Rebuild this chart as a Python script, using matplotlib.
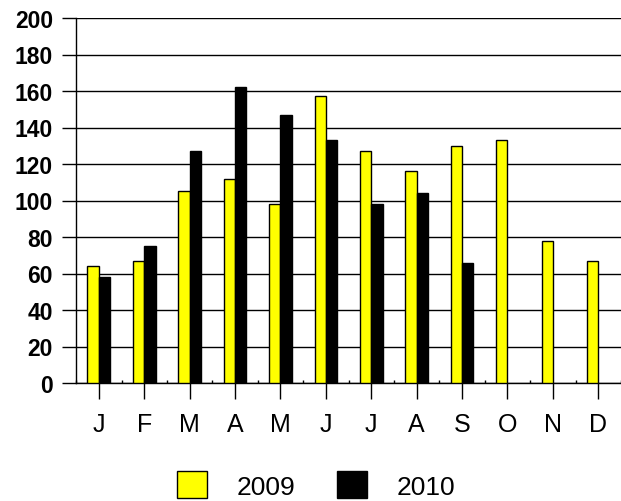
import matplotlib
matplotlib.use("Agg")
import matplotlib.pyplot as plt
from matplotlib.patches import Patch
import numpy as np

months = ["J", "F", "M", "A", "M", "J", "J", "A", "S", "O", "N", "D"]
values_2009 = [64, 67, 105, 112, 98, 157, 127, 116, 130, 133, 78, 67]
values_2010 = [58, 75, 127, 162, 147, 133, 98, 104, 66, np.nan, np.nan, np.nan]
series_names = ["2009", "2010"]
yticks = list(range(0, 201, 20))

plt.rcParams['font.family'] = ['Liberation Sans', 'DejaVu Sans']

W, H = 621, 502
fig = plt.figure(figsize=(W / 100, H / 100), dpi=100)
left, right, top, bottom = 76, 621, 19, 384
ax = fig.add_axes([left / W, (H - bottom) / H, (right - left) / W, (bottom - top) / H])

x = np.arange(len(months))
bw = 0.25
ax.bar(x - bw / 2, values_2009, width=bw, color='#FFFF00', edgecolor='black', linewidth=1, zorder=3)
ax.bar(x + bw / 2, values_2010, width=bw, color='black', edgecolor='black', linewidth=1, zorder=3)

ax.set_xlim(-0.503, -0.503 + (right - left) / 45.73)
ax.set_ylim(0, 200)
ax.set_yticks(yticks)
ax.set_yticklabels([str(v) for v in yticks], fontsize=16.5, fontweight='bold')
ax.set_xticks(x)
ax.set_xticklabels(months, fontsize=18)
ax.set_xticks(np.arange(len(months) + 1) - 0.5, minor=True)

ax.yaxis.grid(True, color='black', linewidth=1, zorder=0)
ax.set_axisbelow(True)
ax.tick_params(axis='y', length=10, width=1, pad=6.5, direction='out')
ax.tick_params(axis='x', which='major', length=11.5, width=1, pad=9.5, direction='out')
ax.tick_params(axis='x', which='minor', length=2, width=1, direction='in')
for s in ['top', 'right']:
    ax.spines[s].set_visible(False)
ax.spines['left'].set_linewidth(1)
ax.spines['bottom'].set_linewidth(1)

fs = 19
fpx = fs * 100 / 72
handles = [Patch(facecolor='#FFFF00', edgecolor='black', linewidth=1),
           Patch(facecolor='black', edgecolor='black', linewidth=1)]
fig.legend(handles, series_names, loc='center', ncol=2, frameon=False,
           bbox_to_anchor=(316 / W, (H - 486) / H), fontsize=fs,
           handlelength=30 / fpx, handleheight=31 / fpx, handletextpad=30 / fpx,
           columnspacing=41 / fpx, borderpad=0, borderaxespad=0)

fig.savefig("out.png", dpi=100)
